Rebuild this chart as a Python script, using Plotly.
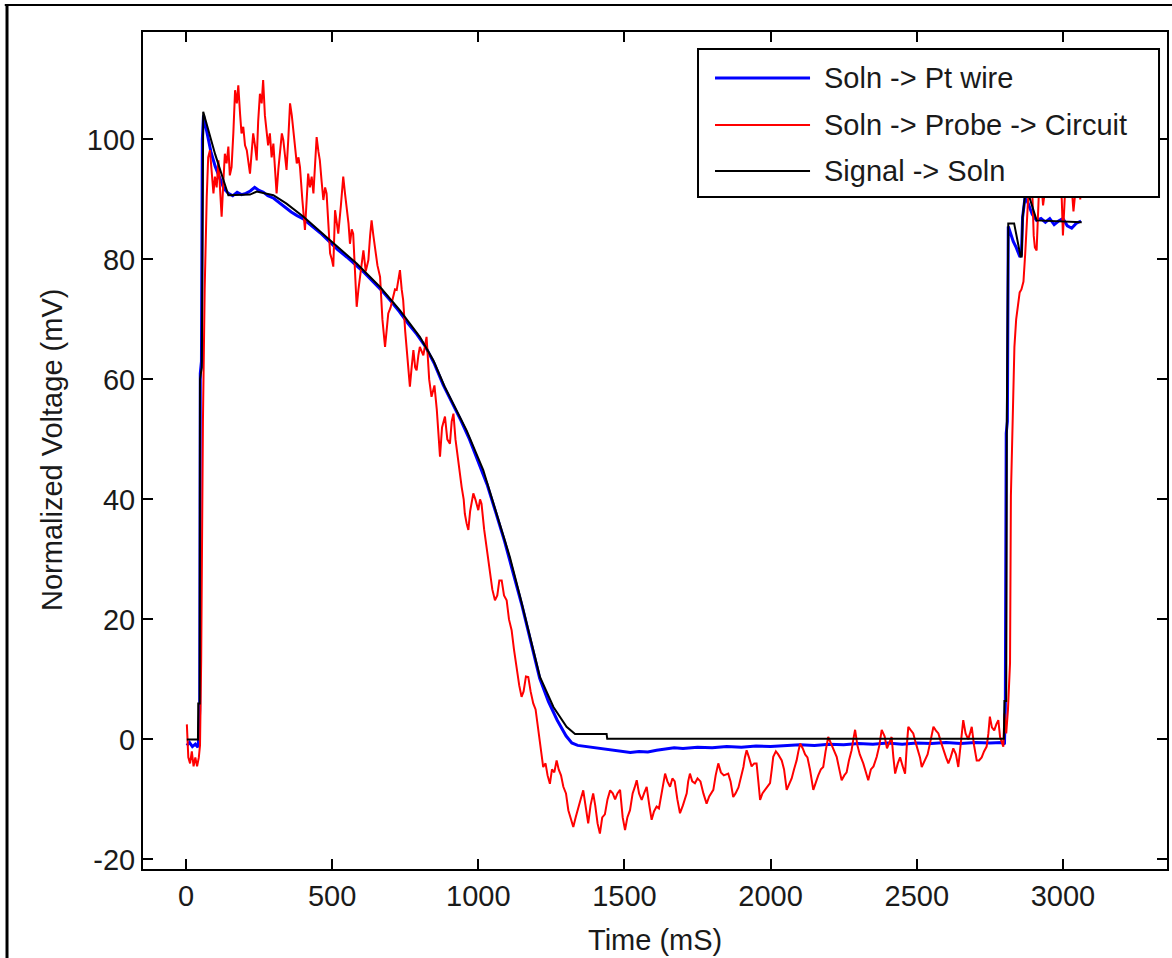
import plotly.graph_objects as go

# ---------------- data ----------------
time_ticks = [0, 500, 1000, 1500, 2000, 2500, 3000]
volt_ticks = [-20, 0, 20, 40, 60, 80, 100]
volt_tick_text = ["-20", "0", "20", "40", "60", "80", "100"]

series_names = ["Soln -> Pt wire", "Soln -> Probe -> Circuit", "Signal -> Soln"]
series_colors = ["#0000FF", "#FF0000", "#000000"]

blue_t = [3, 12, 22, 32, 41, 44, 47, 49, 53, 56, 60, 70, 85, 100, 115, 130, 145, 160, 175, 190,
          205, 220, 235, 250, 265, 280, 300, 320, 340, 360, 380, 400, 430, 460, 490, 520, 550,
          580, 610, 640, 670, 700, 730, 760, 790, 820, 850, 880, 910, 940, 970, 1000, 1030,
          1060, 1090, 1120, 1150, 1180, 1210, 1240, 1270, 1300, 1320, 1340, 1370, 1400, 1430,
          1460, 1490, 1520, 1550, 1580, 1610, 1640, 1670, 1700, 1750, 1800, 1850, 1900, 1950,
          2000, 2050, 2100, 2150, 2200, 2250, 2300, 2350, 2400, 2450, 2500, 2550, 2600, 2650,
          2700, 2750, 2790, 2800, 2803, 2806, 2810, 2813, 2820, 2830, 2840, 2853, 2858, 2862,
          2870, 2880, 2895, 2910, 2925, 2940, 2955, 2970, 2985, 3000, 3015, 3030, 3045, 3062]
blue_v = [-1, -0.5, -1.2, -0.8, -1.3, 0.5, 5, 61, 63, 100, 104, 101.5, 98, 95.5, 93.5, 91.8, 91,
          90.6, 91.2, 90.8, 91, 91.4, 92, 91.5, 91.2, 90.6, 90.2, 89.4, 88.6, 87.9, 87.3, 86.8,
          85.6, 84.4, 83.0, 81.6, 80.4, 79.1, 77.8, 76.3, 74.8, 73.1, 71.3, 69.3, 67.5, 65.4,
          62.6, 59.1, 56.2, 53.2, 50.0, 46.4, 42.5, 37.8, 33.0, 27.6, 22.2, 16.2, 10.2, 6.3, 3.2,
          0.6, -0.6, -1, -1.2, -1.5, -1.7, -1.9, -2.1, -2.2, -2, -2.1, -1.8, -1.6, -1.4, -1.5,
          -1.3, -1.4, -1.2, -1.3, -1.1, -1.2, -1, -0.9, -1, -0.8, -0.9, -0.7, -0.8, -0.6, -0.8,
          -0.6, -0.7, -0.5, -0.7, -0.5, -0.6, -0.5, -0.8, 6, 51, 53, 85.5, 84.5, 83, 82, 80.4,
          80.8, 87, 90.2, 89.5, 87.5, 86.5, 86.8, 86.2, 86.8, 85.8, 86.4, 86.8, 85.6, 85.2, 86,
          86.4]

red_t = [3, 8, 14, 20, 26, 32, 38, 44, 48, 52, 58, 64, 71, 76, 82, 88, 94, 99, 105, 111, 117,
         122, 128, 133, 139, 145, 150, 156, 162, 168, 174, 179, 185, 190, 196, 202, 208, 213,
         219, 225, 230, 236, 242, 247, 253, 259, 264, 270, 276, 281, 287, 293, 299, 305, 310,
         316, 322, 328, 333, 339, 344, 350, 356, 362, 367, 373, 379, 385, 390, 398, 407, 413,
         418, 424, 430, 436, 442, 447, 453, 458, 464, 470, 476, 481, 487, 493, 499, 504, 510,
         516, 521, 530, 538, 544, 550, 556, 561, 567, 572, 578, 584, 590, 595, 601, 607, 615,
         624, 630, 635, 641, 647, 655, 664, 672, 681, 687, 692, 700, 709, 715, 721, 727, 732,
         738, 743, 750, 758, 766, 772, 778, 784, 789, 795, 800, 812, 823, 832, 840, 850, 858,
         865, 869, 876, 886, 894, 903, 909, 915, 922, 932, 943, 950, 954, 960, 966, 972, 978,
         983, 990, 1000, 1006, 1011, 1020, 1029, 1035, 1040, 1048, 1057, 1065, 1072, 1080,
         1088, 1097, 1105, 1114, 1122, 1131, 1140, 1148, 1155, 1163, 1171, 1179, 1188, 1196,
         1204, 1211, 1217, 1222, 1230, 1237, 1245, 1252, 1260, 1268, 1275, 1283, 1291, 1300,
         1308, 1316, 1325, 1333, 1342, 1350, 1359, 1367, 1376, 1384, 1393, 1400, 1408, 1416,
         1424, 1433, 1442, 1451, 1460, 1468, 1476, 1485, 1494, 1502, 1510, 1519, 1528, 1535,
         1542, 1550, 1559, 1567, 1576, 1585, 1593, 1601, 1610, 1618, 1627, 1639, 1647, 1656,
         1664, 1672, 1681, 1690, 1700, 1713, 1718, 1724, 1732, 1741, 1750, 1760, 1770, 1781,
         1790, 1804, 1812, 1821, 1830, 1840, 1855, 1863, 1872, 1880, 1890, 1900, 1907, 1912,
         1918, 1926, 1935, 1944, 1952, 1958, 1964, 1972, 1981, 1990, 1998, 2004, 2009, 2018,
         2026, 2038, 2046, 2055, 2063, 2072, 2080, 2089, 2095, 2101, 2110, 2118, 2126, 2135,
         2146, 2155, 2163, 2172, 2180, 2188, 2197, 2205, 2214, 2226, 2235, 2243, 2252, 2260,
         2268, 2277, 2283, 2289, 2297, 2305, 2317, 2326, 2334, 2343, 2352, 2363, 2372, 2380,
         2390, 2398, 2406, 2414, 2420, 2426, 2435, 2443, 2452, 2460, 2466, 2471, 2480, 2488,
         2496, 2505, 2511, 2517, 2527, 2537, 2546, 2557, 2565, 2574, 2583, 2591, 2600, 2608,
         2616, 2625, 2634, 2642, 2650, 2659, 2667, 2676, 2682, 2688, 2696, 2705, 2713, 2722,
         2730, 2739, 2745, 2750, 2757, 2765, 2772, 2779, 2785, 2796, 2800, 2806, 2812, 2819,
         2822, 2828, 2834, 2840, 2846, 2852, 2858, 2865, 2871, 2877, 2883, 2890, 2896, 2900,
         2904, 2910, 2915, 2920, 2926, 2932, 2940, 2950, 2960, 2970, 2980, 2990, 2996, 3000,
         3005, 3010, 3020, 3030, 3036, 3042, 3050, 3060]
red_v = [2.5, -3, -4, -2, -4.5, -3, -4.5, -3, -1, 13, 53, 75, 90.4, 97, 98.2, 94, 91, 93.8, 92,
         96.5, 91, 87.1, 93, 97.6, 96, 98.8, 94, 95.4, 101, 108.2, 106, 109, 104.3, 101, 102.1,
         99, 98.2, 96, 94.3, 98, 101, 99, 96.5, 103, 107.6, 106, 109.9, 104, 101, 99, 101, 97,
         99.3, 95, 91, 95, 98.2, 101, 99.9, 97, 94.9, 100, 106, 104, 101.5, 98, 96, 97, 95.4,
         90, 84.9, 90, 94.3, 92, 93.8, 91, 96, 100.4, 98, 96.5, 93, 89.9, 92, 91, 86, 81, 80,
         78.8, 88.2, 86, 84.3, 89, 93.8, 91, 88.8, 86, 82.6, 85, 84.3, 78, 72.1, 75, 77.1, 80,
         81.5, 78, 79.9, 84, 86.5, 84, 81.5, 79, 77.1, 70, 65.4, 68, 71, 72, 73.8, 75, 74.9, 77,
         78.2, 75, 73.2, 68, 63, 58.8, 62, 64.9, 62, 61.5, 64, 65.4, 64, 67.1, 60, 57.1, 59, 55,
         50, 47.1, 52, 53.8, 50, 49.3, 53, 54.3, 50, 46, 42.1, 40, 37.6, 36, 34.9, 38, 40, 41,
         40, 38.2, 40, 39.3, 35, 31.5, 30, 28.2, 25, 23.2, 24, 26.5, 26.5, 24, 23.2, 20, 18.2,
         15, 11.5, 9, 7.1, 8, 10.5, 10.4, 8, 6, 5, 2, -1.2, -3, -4.6, -4, -6, -7.4, -5, -5.5,
         -3.5, -5, -6, -7.9, -9, -11.8, -13, -14.6, -13, -11.2, -10, -8.5, -11, -14, -11, -9,
         -11, -14, -15.7, -13, -12.5, -10, -8.5, -9, -10, -9, -8.4, -13, -15.1, -13, -11.8, -9,
         -8, -6.8, -9, -10.1, -9, -7.9, -11, -13.4, -12, -11.2, -11.5, -9, -5.7, -7, -7.9,
         -6.5, -7, -10, -12.3, -11, -9, -7, -5.7, -7, -7.3, -6.5, -7, -9, -10.7, -9.5, -8.4,
         -6, -4, -5.5, -6, -5.7, -7, -9.6, -9, -8, -6, -4.6, -3, -1.8, -3, -4.5, -4, -4, -7,
         -10.1, -9, -8.4, -8, -7.3, -5, -2.9, -2, -2.5, -3.5, -5, -8.4, -7.5, -6.5, -5, -3.5,
         -2, -0.7, -1.5, -2.5, -3, -5.1, -8.4, -7, -6, -5, -4.6, -2, 0.4, -0.5, -1.5, -2.9, -5,
         -6.8, -6, -5.5, -3.5, -1.8, 0, 1.6, -1, -2.5, -4, -5.5, -6.8, -5, -4.5, -2.9, -1, 1.6,
         0.5, -1.5, -0.5, 0.4, -3, -5.7, -4, -3, -4.5, -5.7, -1, 2.1, 1.5, 1, -0.5, -1.8, -3,
         -4.6, -3.5, -2.5, -0.5, 2.1, 1.5, 1, -0.5, -1.8, -3, -4, -3, -1.5, -2.5, -4.6, -0.5,
         3.2, 1, 0, 1, 2.1, -1, -3.5, -3.5, -3, -2, -1.2, 1, 3.8, 2, 1.5, 2.5, 3.2, 0.4, -1.2,
         4.3, 1, 5, 12.7, 40.6, 55, 65.4, 70, 72.6, 74.5, 75, 76.3, 81, 86, 92, 95, 90, 84, 82,
         81.5, 88, 94, 93, 89, 92, 94, 93, 92, 91, 93, 90, 84, 88, 94, 93, 92, 88, 91, 92, 90]

black_t = [3, 41, 42, 47, 48, 54, 59, 100, 145, 180, 219, 242, 270, 299, 344, 402, 493, 584,
           664, 732, 800, 846, 885, 903, 960, 1017, 1063, 1108, 1143, 1177, 1211, 1257, 1302,
           1331, 1439, 1441, 2798, 2800, 2806, 2808, 2813, 2833, 2855, 2859, 2862, 2870, 2878,
           2910, 3064]
black_v = [0, 0, 6, 6, 60, 62, 104.6, 97.5, 90.7, 90.7, 90.8, 91.3, 91.0, 90.7, 89.3, 87.1,
           83.2, 79.3, 75.4, 71.5, 67.1, 63.2, 58.8, 57.1, 51.5, 44.9, 37.6, 30.4, 23.8, 17.1,
           10.4, 5.4, 2.1, 0.9, 0.9, 0.1, 0.1, 6.4, 6.4, 53, 86, 86, 80.5, 80.5, 87, 90.5, 91.5,
           86.5, 86.2]

# ---------------- figure ----------------
FONT = "Liberation Sans, Arial, sans-serif"
TXT = "#1a1a1a"

fig = go.Figure()
fig.add_trace(go.Scatter(x=blue_t, y=blue_v, mode="lines", name=series_names[0],
                         line=dict(color=series_colors[0], width=3)))
fig.add_trace(go.Scatter(x=red_t, y=red_v, mode="lines", name=series_names[1],
                         line=dict(color=series_colors[1], width=2)))
fig.add_trace(go.Scatter(x=black_t, y=black_v, mode="lines", name=series_names[2],
                         line=dict(color=series_colors[2], width=2)))

axis_common = dict(showline=True, linecolor="black", linewidth=2, mirror="ticks",
                   ticks="inside", ticklen=10, tickwidth=2, tickcolor="black",
                   showgrid=False, zeroline=False, automargin=False,
                   tickfont=dict(family=FONT, size=29, color=TXT))

fig.update_xaxes(range=[-147, 3356], tickvals=time_ticks, ticklabelstandoff=0, **axis_common)
fig.update_yaxes(range=[-21.6, 117.9], tickvals=volt_ticks, ticktext=volt_tick_text,
                 ticklabelstandoff=0, **axis_common)

# custom legend box (paper coordinates of the plotting area)
leg_x0, leg_x1, leg_y0, leg_y1 = 0.542, 0.9922, 0.8029, 0.9797
leg_rows = [0.9450, 0.8889, 0.8339]
line_x0, line_x1, text_x = 0.5586, 0.6514, 0.6631
line_widths = [3, 2, 2]

shapes = [
    dict(type="line", xref="paper", yref="paper", x0=-0.1328, x1=-0.1328,
         y0=1.0323, y1=-0.11, line=dict(color="black", width=3)),
    dict(type="line", xref="paper", yref="paper", x0=-0.135, x1=1.006,
         y0=1.0323, y1=1.0323, line=dict(color="black", width=2)),
    dict(type="rect", xref="paper", yref="paper", x0=leg_x0, x1=leg_x1, y0=leg_y0, y1=leg_y1,
         fillcolor="white", line=dict(color="black", width=2), layer="above"),
]
annotations = [
    dict(text="Time (mS)", xref="paper", yref="paper", x=0.5, y=-0.0848, showarrow=False,
         xanchor="center", yanchor="middle", font=dict(family=FONT, size=29, color=TXT)),
    dict(text="Normalized Voltage (mV)", xref="paper", yref="paper", x=-0.0889, y=0.5006,
         textangle=-90, showarrow=False, xanchor="center", yanchor="middle",
         font=dict(family=FONT, size=29, color=TXT)),
]
for name, color, yrow, lw in zip(series_names, series_colors, leg_rows, line_widths):
    shapes.append(dict(type="line", xref="paper", yref="paper", x0=line_x0, x1=line_x1,
                       y0=yrow, y1=yrow, line=dict(color=color, width=lw), layer="above"))
    annotations.append(dict(text=name, xref="paper", yref="paper", x=text_x, y=yrow,
                            showarrow=False, xanchor="left", yanchor="middle",
                            font=dict(family=FONT, size=29, color=TXT)))

fig.update_layout(
    width=1172, height=958,
    margin=dict(l=143, r=5, t=32, b=89),
    paper_bgcolor="white", plot_bgcolor="white",
    showlegend=False,
    shapes=shapes,
    annotations=annotations,
)

fig.write_html("out.html", config={"displayModeBar": False},
               post_script="document.body.style.margin='0px';")
